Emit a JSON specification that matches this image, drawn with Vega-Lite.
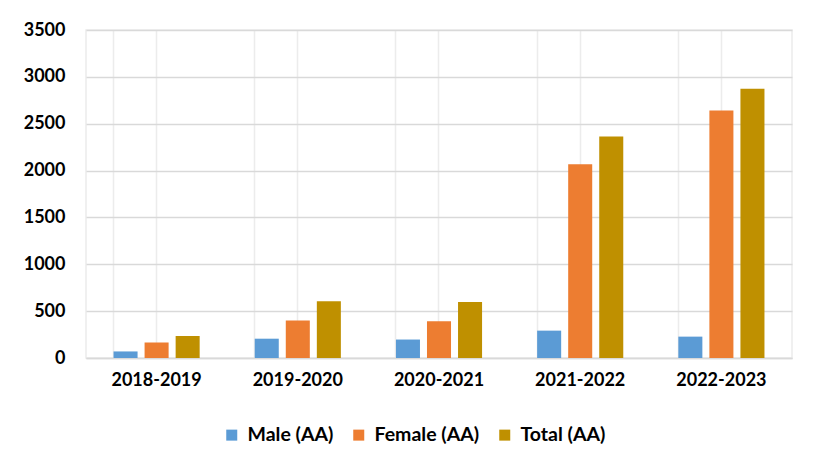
{
  "$schema": "https://vega.github.io/schema/vega-lite/v6.json",
  "width": 706,
  "height": 328,
  "autosize": {"type": "none"},
  "padding": {"left": 86, "top": 30, "right": 28, "bottom": 114},
  "background": "white",
  "config": {
    "font": "Lato",
    "view": {"stroke": "#ececec", "strokeWidth": 1.5}
  },
  "data": {
    "values": [
      {"year": "2018-2019", "series": "Male (AA)", "value": 70},
      {"year": "2018-2019", "series": "Female (AA)", "value": 166},
      {"year": "2018-2019", "series": "Total (AA)", "value": 235},
      {"year": "2019-2020", "series": "Male (AA)", "value": 206},
      {"year": "2019-2020", "series": "Female (AA)", "value": 400},
      {"year": "2019-2020", "series": "Total (AA)", "value": 606},
      {"year": "2020-2021", "series": "Male (AA)", "value": 197},
      {"year": "2020-2021", "series": "Female (AA)", "value": 392},
      {"year": "2020-2021", "series": "Total (AA)", "value": 598},
      {"year": "2021-2022", "series": "Male (AA)", "value": 292},
      {"year": "2021-2022", "series": "Female (AA)", "value": 2068},
      {"year": "2021-2022", "series": "Total (AA)", "value": 2364},
      {"year": "2022-2023", "series": "Male (AA)", "value": 228},
      {"year": "2022-2023", "series": "Female (AA)", "value": 2642},
      {"year": "2022-2023", "series": "Total (AA)", "value": 2873}
    ]
  },
  "layer": [
    {
      "mark": {"type": "bar"},
      "encoding": {
        "x": {
          "field": "year",
          "type": "nominal",
          "sort": null,
          "scale": {"paddingInner": 0.39, "paddingOuter": 0.195},
          "axis": {
            "title": null,
            "labelAngle": 0,
            "labelFont": "Lato",
            "labelFontWeight": "bold",
            "labelFontSize": 18,
            "labelColor": "#000000",
            "labelPadding": 13,
            "ticks": false,
            "domain": true,
            "domainColor": "#d9d9d9",
            "domainWidth": 1.5,
            "grid": true,
            "gridColor": "#ececec",
            "gridWidth": 1.5
          }
        },
        "xOffset": {
          "field": "series",
          "type": "nominal",
          "sort": ["Male (AA)", "Female (AA)", "Total (AA)"],
          "scale": {"paddingInner": 0.226, "paddingOuter": 0}
        },
        "y": {
          "field": "value",
          "type": "quantitative",
          "scale": {"domain": [0, 3500], "nice": false},
          "axis": {
            "title": null,
            "format": "d",
            "values": [0, 500, 1000, 1500, 2000, 2500, 3000, 3500],
            "labelFont": "Lato",
            "labelFontWeight": "bold",
            "labelFontSize": 18,
            "labelColor": "#000000",
            "labelPadding": 21,
            "ticks": false,
            "domain": false,
            "grid": true,
            "gridColor": "#d9d9d9",
            "gridWidth": 1.5
          }
        },
        "color": {
          "field": "series",
          "type": "nominal",
          "scale": {
            "domain": ["Male (AA)", "Female (AA)", "Total (AA)"],
            "range": ["#5B9BD5", "#ED7D31", "#BF9000"]
          },
          "legend": {
            "title": null,
            "orient": "none",
            "direction": "horizontal",
            "legendX": 136,
            "legendY": 395,
            "symbolType": "square",
            "symbolSize": 121,
            "symbolStrokeWidth": 0,
            "labelFont": "Lato",
            "labelFontWeight": "bold",
            "labelFontSize": 19.5,
            "labelColor": "#000000",
            "columnPadding": 15,
            "labelOffset": 6
          }
        }
      }
    },
    {
      "mark": {"type": "bar", "opacity": 0},
      "encoding": {
        "x": {
          "field": "year",
          "type": "nominal",
          "sort": null,
          "axis": {
            "orient": "top",
            "title": null,
            "labels": false,
            "ticks": false,
            "domain": false,
            "grid": true,
            "bandPosition": 0,
            "gridColor": "#ececec",
            "gridWidth": 1.5
          }
        },
        "y": {"field": "value", "type": "quantitative"}
      }
    }
  ],
  "resolve": {"axis": {"x": "independent"}}
}
